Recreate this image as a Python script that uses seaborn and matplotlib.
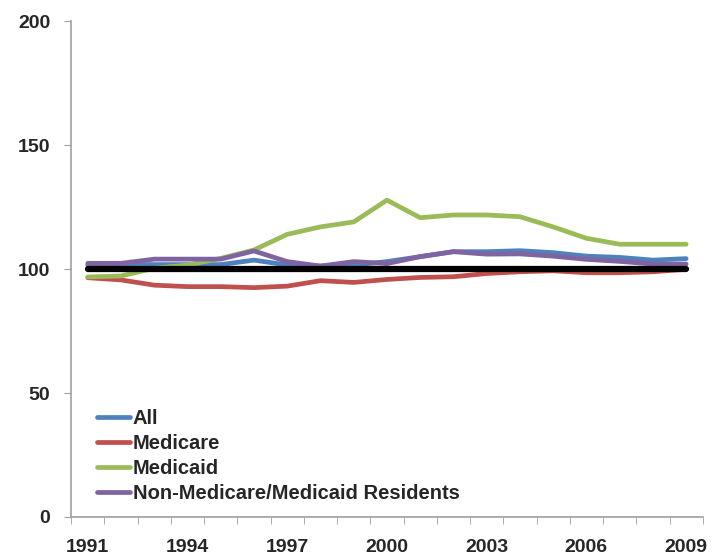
import numpy as np
import pandas as pd
import matplotlib
matplotlib.use("Agg")
import matplotlib.pyplot as plt
import seaborn as sns
from matplotlib.ticker import FixedLocator

years = list(range(1991, 2010))
all_vals = [101.5, 101.8, 101.8, 101.8, 101.8, 103.6, 101.6, 101.2, 101.6, 103.0,
            105.0, 107.0, 107.0, 107.4, 106.6, 105.2, 104.7, 103.6, 104.2]
medicare = [96.5, 95.6, 93.5, 92.9, 92.9, 92.5, 93.1, 95.3, 94.6, 95.8,
            96.6, 96.9, 98.2, 98.9, 99.3, 98.5, 98.5, 98.9, 99.9]
medicaid = [96.8, 97.2, 100.3, 101.6, 104.3, 107.7, 114.0, 117.0, 119.0, 127.8,
            120.7, 121.8, 121.8, 121.1, 117.0, 112.4, 110.0, 110.0, 110.0]
non_mm = [102.3, 102.3, 104.0, 104.0, 104.0, 107.3, 103.0, 101.2, 103.0, 102.2,
          105.0, 107.0, 106.0, 106.1, 105.2, 103.9, 103.1, 102.0, 102.0]
baseline = [100] * len(years)

series_names = ["All", "Medicare", "Medicaid", "Non-Medicare/Medicaid Residents"]
colors = ["#4F81BD", "#C0504D", "#9BBB59", "#8064A2"]
year_labels = ["1991", "1994", "1997", "2000", "2003", "2006", "2009"]
y_ticks = [0, 50, 100, 150, 200]

df = pd.DataFrame({
    "year": years * 4,
    "value": all_vals + medicare + medicaid + non_mm,
    "series": sum([[n] * len(years) for n in series_names], []),
})
base_df = pd.DataFrame({"year": years, "value": baseline})

sns.set_style("white")
plt.rcParams["font.family"] = ["Liberation Sans", "DejaVu Sans"]

fig = plt.figure(figsize=(7.26, 5.55), dpi=100)
ax = fig.add_axes([0.098, 0.0685, 0.870, 0.8935])

sns.lineplot(data=df, x="year", y="value", hue="series", hue_order=series_names,
             palette=colors, linewidth=3.4, ax=ax, solid_capstyle="round")
sns.lineplot(data=base_df, x="year", y="value", color="black", linewidth=4.5,
             ax=ax, legend=False, zorder=5, solid_capstyle="round")

ax.set_xlim(1990.5, 2009.5)
ax.set_ylim(0, 200)
ax.set_xticks([int(y) for y in year_labels])
ax.set_xticklabels(year_labels, fontsize=14, fontweight="bold")
ax.xaxis.set_minor_locator(FixedLocator(np.arange(1990.5, 2010, 1.0)))
ax.set_yticks(y_ticks)
ax.set_yticklabels([str(t) for t in y_ticks], fontsize=14, fontweight="bold")
ax.tick_params(axis="x", which="major", length=0, pad=16)
ax.tick_params(axis="x", which="minor", length=5, color="#A0A0A0", direction="out", bottom=True)
ax.tick_params(axis="y", length=5, color="#A0A0A0", direction="out", left=True, pad=10)
ax.set_xlabel("")
ax.set_ylabel("")
for s in ["top", "right"]:
    ax.spines[s].set_visible(False)
for s in ["left", "bottom"]:
    ax.spines[s].set_color("#A0A0A0")
    ax.spines[s].set_linewidth(1.2)

handles, labels = ax.get_legend_handles_labels()
leg = ax.legend(handles, labels, loc="lower left", bbox_to_anchor=(0.013, -0.008),
                frameon=False, handlelength=1.6, handletextpad=0.15,
                labelspacing=0.3, prop={"size": 14.5, "weight": "bold"})

fig.savefig("out.png", dpi=100)
